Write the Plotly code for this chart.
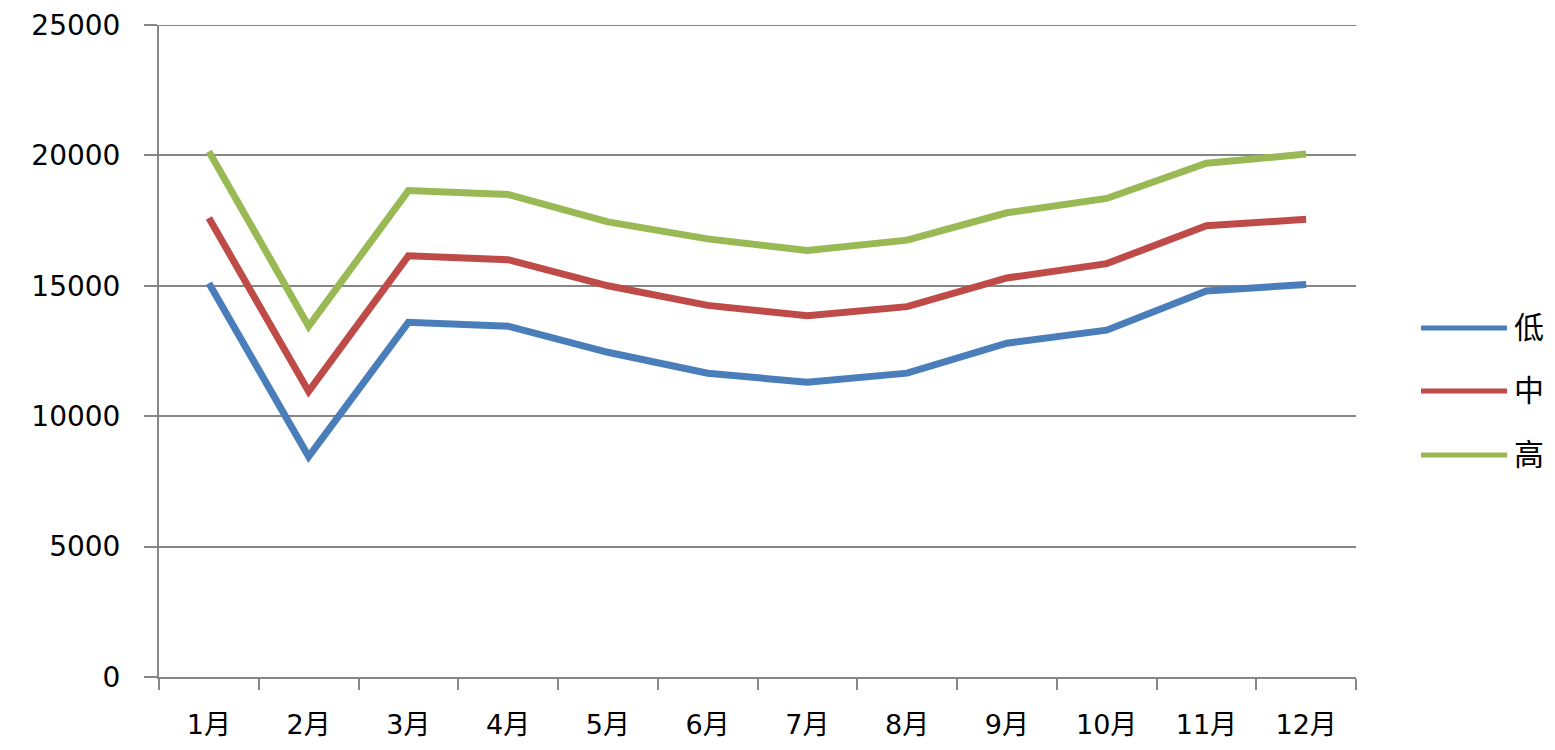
import plotly.graph_objects as go

months = ["1月", "2月", "3月", "4月", "5月", "6月", "7月", "8月", "9月", "10月", "11月", "12月"]
series_names = ["低", "中", "高"]
low = [15100, 8450, 13600, 13450, 12450, 11650, 11300, 11650, 12800, 13300, 14800, 15050]
mid = [17600, 10950, 16150, 16000, 15000, 14250, 13850, 14200, 15300, 15850, 17300, 17550]
high = [20150, 13450, 18650, 18500, 17450, 16800, 16350, 16750, 17800, 18350, 19700, 20050]
y_ticks = [0, 5000, 10000, 15000, 20000, 25000]
colors = ["#4A7EBB", "#BE4B48", "#98B954"]

FONT = "DejaVu Sans, Noto Sans CJK SC, sans-serif"
GRID = "#868686"

fig = go.Figure()
for name, vals, col in zip(series_names, [low, mid, high], colors):
    fig.add_trace(go.Scatter(x=months, y=vals, name=name, mode="lines",
                             line=dict(color=col, width=7), showlegend=False))

# top gridline (plotly omits the grid line at the very edge of the range)
fig.add_shape(type="line", xref="paper", yref="y", x0=0, x1=1,
              y0=y_ticks[-1], y1=y_ticks[-1], line=dict(color=GRID, width=2))

# custom legend (wide line samples as in the original)
leg_y = [0.5353, 0.4387, 0.3405]
for name, col, ly in zip(series_names, colors, leg_y):
    fig.add_shape(type="line", xref="paper", yref="paper",
                  x0=1.0543, x1=1.1262, y0=ly, y1=ly,
                  line=dict(color=col, width=5))
    fig.add_annotation(xref="paper", yref="paper", x=1.1305, y=ly,
                       text=name, showarrow=False, xanchor="left", yanchor="middle",
                       font=dict(family=FONT, size=30, color="#000000"))

# page body has an ~8px margin; keep the figure inside the viewport
fig.update_layout(
    width=1539, height=734,
    margin=dict(l=151, r=191, t=17, b=65),
    paper_bgcolor="white", plot_bgcolor="white",
    font=dict(family=FONT, size=28, color="#000000"),
)
fig.update_xaxes(
    type="category", tickson="boundaries", automargin=False,
    showline=True, linecolor=GRID, linewidth=2,
    ticks="outside", ticklen=11, tickwidth=2, tickcolor=GRID,
    showgrid=False, ticklabelstandoff=23,
    tickfont=dict(family=FONT, size=27, color="#000000"),
    range=[-0.5, 11.5],
)
fig.update_yaxes(
    range=[0, 25000], tickvals=y_ticks, ticktext=[str(v) for v in y_ticks],
    automargin=False,
    showline=True, linecolor=GRID, linewidth=2,
    ticks="outside", ticklen=13, tickwidth=2, tickcolor=GRID,
    showgrid=True, gridcolor=GRID, gridwidth=2,
    zeroline=False, ticklabelstandoff=18,
    tickfont=dict(family=FONT, size=28, color="#000000"),
)

fig.write_html("out.html")
